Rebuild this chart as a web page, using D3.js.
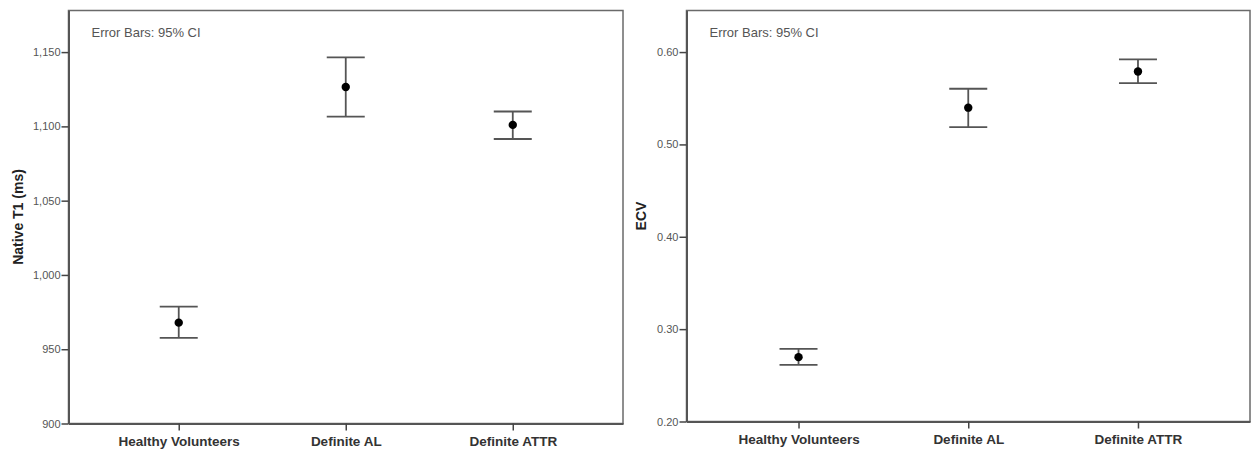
<!DOCTYPE html>
<html><head><meta charset="utf-8">
<script src="https://cdn.jsdelivr.net/npm/d3@7"></script>
<style>
body{margin:0;background:#fff;}
svg{display:block;font-family:"Liberation Sans",Arial,sans-serif;}
</style></head>
<body>
<svg id="chart" width="1251" height="451"></svg>
<script>
const categories = ["Healthy Volunteers", "Definite AL", "Definite ATTR"];
// Native T1 (ms)
const t1Mean  = [967.9, 1126.5, 1101.0];
const t1Lower = [957.6, 1106.5, 1091.5];
const t1Upper = [978.7, 1146.4, 1110.0];
const t1Ticks = [900, 950, 1000, 1050, 1100, 1150];
// ECV
const ecvMean  = [0.2697, 0.5398, 0.579];
const ecvLower = [0.2613, 0.5187, 0.5664];
const ecvUpper = [0.2787, 0.5603, 0.592];
const ecvTicks = [0.20, 0.30, 0.40, 0.50, 0.60];

const svg = d3.select("#chart");

function panel(opt){
  const g = svg.append("g");
  const x = d3.scalePoint().domain(categories).range([opt.left, opt.right]).padding(0.66);
  const y = d3.scaleLinear().domain(opt.domain).range([opt.bottom, opt.top]);
  // frame
  g.append("rect").attr("x", opt.left).attr("y", opt.top)
    .attr("width", opt.right - opt.left).attr("height", opt.bottom - opt.top)
    .attr("fill", "none").attr("stroke", "#6a6a6a").attr("stroke-width", 1.5);
  // y axis
  const ya = g.append("g").attr("transform", `translate(${opt.left},0)`)
    .call(d3.axisLeft(y).tickValues(opt.ticks).tickSize(7).tickSizeOuter(0).tickFormat(opt.fmt));
  ya.select(".domain").attr("stroke", "#555").attr("stroke-width", 2);
  ya.selectAll(".tick line").attr("stroke", "#444").attr("stroke-width", 1.5);
  ya.selectAll(".tick text").attr("fill", "#555").attr("font-size", 11)
    .attr("font-family", "Liberation Sans, Arial, sans-serif").attr("x", -8).attr("dx", 0);
  // x axis
  const xa = g.append("g").attr("transform", `translate(0,${opt.bottom})`)
    .call(d3.axisBottom(x).tickSize(7).tickSizeOuter(0).tickPadding(6));
  xa.select(".domain").attr("stroke", "#555").attr("stroke-width", 2);
  xa.selectAll(".tick line").attr("stroke", "#444").attr("stroke-width", 1.5);
  xa.selectAll(".tick text").attr("fill", "#333").attr("font-size", 13.5).attr("font-weight", "bold")
    .attr("font-family", "Liberation Sans, Arial, sans-serif");
  // y title
  g.append("text").attr("transform", `translate(${opt.titleX},${(opt.top+opt.bottom)/2}) rotate(-90)`)
    .attr("text-anchor", "middle").attr("dominant-baseline", "central")
    .attr("font-size", 14).attr("font-weight", "bold").attr("fill", "#222").text(opt.title);
  // annotation
  g.append("text").attr("x", opt.left + 23).attr("y", 37)
    .attr("font-size", 13).attr("fill", "#555").text("Error Bars: 95% CI");
  // error bars
  const data = categories.map((c, i) => ({c, m: opt.mean[i], lo: opt.lower[i], hi: opt.upper[i]}));
  const eb = g.append("g").attr("stroke", "#555").attr("stroke-width", 1.8);
  eb.selectAll(".v").data(data).join("line")
    .attr("x1", d => x(d.c)).attr("x2", d => x(d.c)).attr("y1", d => y(d.lo)).attr("y2", d => y(d.hi));
  eb.selectAll(".hi").data(data).join("line").attr("class", "hi")
    .attr("x1", d => x(d.c) - 19).attr("x2", d => x(d.c) + 19).attr("y1", d => y(d.hi)).attr("y2", d => y(d.hi));
  eb.selectAll(".lo").data(data).join("line").attr("class", "lo")
    .attr("x1", d => x(d.c) - 19).attr("x2", d => x(d.c) + 19).attr("y1", d => y(d.lo)).attr("y2", d => y(d.lo));
  g.selectAll("circle").data(data).join("circle")
    .attr("cx", d => x(d.c)).attr("cy", d => y(d.m)).attr("r", 4.2).attr("fill", "#000");
}

panel({left: 68.5, right: 623, top: 10.5, bottom: 423.5, domain: [900, 1178],
  ticks: t1Ticks, fmt: d3.format(","), mean: t1Mean, lower: t1Lower, upper: t1Upper,
  title: "Native T1 (ms)", titleX: 18});
panel({left: 686.5, right: 1250, top: 10.5, bottom: 421.5, domain: [0.20, 0.645],
  ticks: ecvTicks, fmt: d3.format(".2f"), mean: ecvMean, lower: ecvLower, upper: ecvUpper,
  title: "ECV", titleX: 641});
</script>
</body></html>
